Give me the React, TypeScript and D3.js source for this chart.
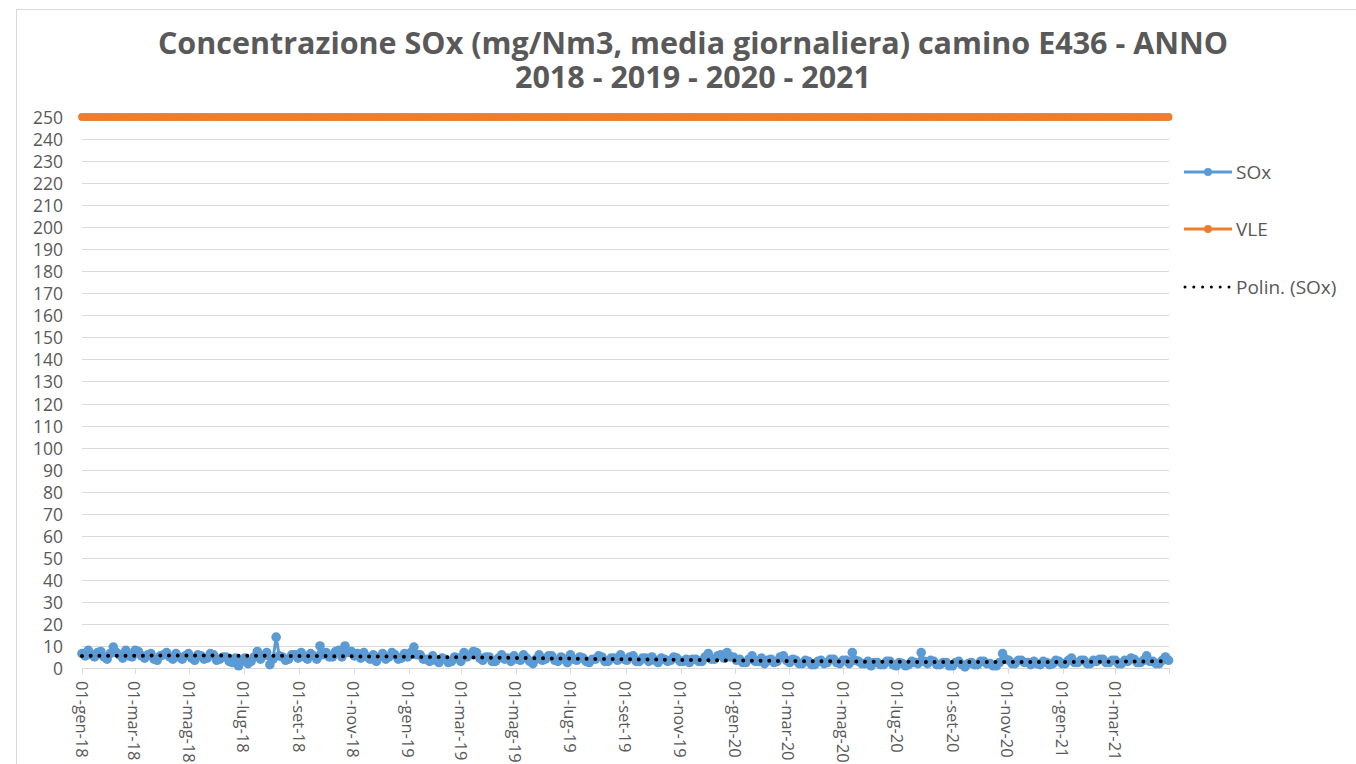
import React from "react";
import * as d3 from "d3";

const TITLE_LINES = [
  "Concentrazione SOx (mg/Nm3, media giornaliera) camino E436 - ANNO",
  "2018 - 2019 - 2020 - 2021",
];
const SERIES_NAMES = ["SOx", "VLE", "Polin. (SOx)"];
const FIRST_DAY = "2018-01-01";
const LAST_DAY = "2021-04-30";
const SAMPLE_STEP_HOURS = 84; // two readings per week

// SOx readings (mg/Nm3), two per week
const SOX_2018 = [
  6.5, 5.5, 8, 6, 5, 7, 7.5, 5, 4, 6.5, 9.5, 7, 6, 4.5, 8, 5.5, 5, 8, 7.5, 5.5,
  4.5, 6, 6.5, 4, 3.5, 5.5, 6, 7, 5, 4, 6.5, 5, 4, 5.5, 6.5, 4.5, 3.5, 6, 5.5, 4,
  4.5, 6.5, 6, 3.5, 4, 5, 5, 3, 2.5, 4.5, 1, 3, 4.5, 2, 3, 5, 7.5, 4, 5.5, 7,
  1.5, 4, 14, 5.5, 5, 3.5, 4, 6, 6, 4.5, 7, 5, 4, 6.5, 5.5, 4, 10, 6, 7, 5,
  5, 7.5, 8, 5, 10, 7, 7.5, 5.5, 6.5, 4.5, 7, 5, 4, 6, 3, 5, 6.5, 4, 5, 7,
  6, 4, 4.5, 6.5, 5, 7,
];
const SOX_2019 = [
  9.5, 6, 6, 4, 4, 3, 5.5, 3.5, 2.5, 4.5, 4, 2.5, 3, 5, 4.5, 3, 7, 5, 6, 7.5,
  7, 4.5, 3.5, 5, 5, 3, 3, 4.5, 6, 4, 4.5, 3, 5.5, 4, 3.5, 6, 4.5, 3, 2, 4,
  6, 3.5, 4, 5.5, 5.5, 3.5, 3, 5, 4, 2.5, 6, 4, 3.5, 5, 4.5, 3, 2.5, 4, 4, 5.5,
  5, 3, 3, 4.5, 4.5, 3.5, 6, 4, 3.5, 5, 5.5, 3, 3, 4.5, 4.5, 3, 5, 3.5, 2.5, 4.5,
  4, 3, 3.5, 5, 4.5, 3, 3, 4, 2.5, 4, 4, 3, 3, 5, 6.5, 4, 4, 5.5, 6, 4.5,
  7, 5, 5, 3.5,
];
const SOX_2020 = [
  4, 2.5, 2.5, 4, 5.5, 3, 3, 4.5, 2, 3.5, 4, 2.5, 3, 5, 5.5, 3.5, 2.5, 4, 3.5, 2,
  2, 3.5, 3, 1.5, 1.5, 3, 3.5, 2, 2.5, 4, 4, 2.5, 2, 3.5, 3.5, 2, 7, 3.5, 3, 2,
  2, 3, 1, 2.5, 2.5, 1.5, 1.5, 3, 3, 1.5, 1, 2.5, 2, 1, 1.5, 3, 2.5, 2, 7, 3,
  2, 3.5, 3, 1.5, 1.5, 2.5, 2.5, 1, 1, 2.5, 3, 1.5, 0.5, 2, 2.5, 1.5, 1.5, 3, 3, 2,
  2, 1, 1, 2.5, 6.5, 4, 3.5, 2, 2, 3.5, 3.5, 2.5, 2.5, 1.5, 3, 2, 1.5, 3, 2.5, 1.5,
  2, 3.5, 3, 2,
];
const SOX_2021 = [
  2, 3.5, 4.5, 2.5, 2.5, 3.5, 3.5, 2, 2, 3.5, 3, 4, 4, 2.5, 2.5, 3.5, 3.5, 2, 2, 3.5,
  3, 4.5, 4, 2.5, 2.5, 3.5, 5.5, 3, 3, 2, 2, 3.5, 5, 3.5,
];

const VLE_LIMIT = 250;
const TREND_ORDER = 3;

const X_TICK_LABELS = [
  "01-gen-18", "01-mar-18", "01-mag-18", "01-lug-18", "01-set-18", "01-nov-18",
  "01-gen-19", "01-mar-19", "01-mag-19", "01-lug-19", "01-set-19", "01-nov-19",
  "01-gen-20", "01-mar-20", "01-mag-20", "01-lug-20", "01-set-20", "01-nov-20",
  "01-gen-21", "01-mar-21",
];
const Y_TICKS = [
  0, 10, 20, 30, 40, 50, 60, 70, 80, 90, 100, 110, 120, 130, 140, 150, 160, 170,
  180, 190, 200, 210, 220, 230, 240, 250,
];

const COLORS = {
  sox: "#5B9BD5",
  vle: "#ED7D31",
  trend: "#000000",
  text: "#595959",
  grid: "#D9D9D9",
  border: "#D9D9D9",
};

const PLOT = { left: 82, right: 1169, top: 117, bottom: 668 };
const FONT = "'Open Sans', 'Noto Sans', sans-serif";

function polyFit(xs: number[], ys: number[], order: number): number[] {
  const n = order + 1;
  const A: number[][] = Array.from({ length: n }, () => new Array(n + 1).fill(0));
  for (let k = 0; k < xs.length; k++) {
    const pw: number[] = [];
    for (let i = 0; i < 2 * n; i++) pw.push(Math.pow(xs[k], i));
    for (let r = 0; r < n; r++) {
      for (let c = 0; c < n; c++) A[r][c] += pw[r + c];
      A[r][n] += pw[r] * ys[k];
    }
  }
  for (let i = 0; i < n; i++) {
    let max = i;
    for (let r = i + 1; r < n; r++) if (Math.abs(A[r][i]) > Math.abs(A[max][i])) max = r;
    [A[i], A[max]] = [A[max], A[i]];
    for (let r = 0; r < n; r++) {
      if (r === i) continue;
      const f = A[r][i] / A[i][i];
      for (let c = i; c <= n; c++) A[r][c] -= f * A[i][c];
    }
  }
  return A.map((row, i) => row[n] / A[i][i]);
}

export default function App() {
  const parse = d3.timeParse("%Y-%m-%d");
  const start = parse(FIRST_DAY) as Date;
  const end = parse(LAST_DAY) as Date;
  const values = [...SOX_2018, ...SOX_2019, ...SOX_2020, ...SOX_2021];
  const data = values.map((v, i) => ({
    date: new Date(Math.min(start.getTime() + i * SAMPLE_STEP_HOURS * 3600e3, end.getTime())),
    v,
  }));

  const x = d3.scaleTime().domain([start, end]).range([PLOT.left, PLOT.right]);
  const y = d3.scaleLinear().domain([0, 250]).range([PLOT.bottom, PLOT.top]);

  const tickDates = d3.timeMonth.every(2)!.range(start, d3.timeDay.offset(end, 1));

  const line = d3
    .line<{ date: Date; v: number }>()
    .x((d) => x(d.date))
    .y((d) => y(d.v));

  // polynomial trendline (least squares) computed from the SOx series
  const span = end.getTime() - start.getTime();
  const tNorm = (d: Date) => (d.getTime() - start.getTime()) / span;
  const coef = polyFit(data.map((d) => tNorm(d.date)), data.map((d) => d.v), TREND_ORDER);
  const trendPts = d3.range(0, 401).map((i) => {
    const t = i / 400;
    const v = coef.reduce((s, c, k) => s + c * Math.pow(t, k), 0);
    return { date: new Date(start.getTime() + t * span), v };
  });
  const vleData = data.map((d) => ({ date: d.date, v: VLE_LIMIT }));

  const legendY = [172, 229, 287];

  return (
    <svg
      width={1356}
      height={764}
      style={{ position: "absolute", left: 0, top: 0, background: "#fff" }}
      fontFamily={FONT}
    >
      <rect x={16.5} y={9.5} width={1500} height={900} fill="#fff" stroke={COLORS.border} />
      {TITLE_LINES.map((t, i) => (
        <text
          key={i}
          x={693}
          y={54 + i * 34}
          textAnchor="middle"
          fontSize={30.5}
          fontWeight={700}
          fill={COLORS.text}
        >
          {t}
        </text>
      ))}

      {Y_TICKS.map((t) => (
        <g key={t}>
          <line
            x1={PLOT.left}
            x2={PLOT.right}
            y1={Math.round(y(t)) + 0.5}
            y2={Math.round(y(t)) + 0.5}
            stroke={COLORS.grid}
            strokeWidth={1}
          />
          <text
            x={63}
            y={y(t)}
            textAnchor="end"
            dominantBaseline="central"
            fontSize={17.5}
            fill={COLORS.text}
          >
            {t}
          </text>
        </g>
      ))}

      {[...tickDates, end].map((d, i) => (
        <line
          key={i}
          x1={Math.round(x(d)) + 0.5}
          x2={Math.round(x(d)) + 0.5}
          y1={PLOT.bottom}
          y2={PLOT.bottom + 6}
          stroke={COLORS.grid}
        />
      ))}
      {tickDates.map((d, i) => (
        <text
          key={i}
          transform={`translate(${x(d)},${PLOT.bottom + 13}) rotate(90)`}
          textAnchor="start"
          dominantBaseline="central"
          fontSize={16.5}
          fill={COLORS.text}
        >
          {X_TICK_LABELS[i]}
        </text>
      ))}

      <path d={line(data) || ""} fill="none" stroke={COLORS.sox} strokeWidth={3} strokeLinejoin="round" />
      {data.map((d, i) => (
        <circle key={i} cx={x(d.date)} cy={y(d.v)} r={4.8} fill={COLORS.sox} />
      ))}

      <path d={line(vleData) || ""} fill="none" stroke={COLORS.vle} strokeWidth={3} />
      {vleData.map((d, i) => (
        <circle key={i} cx={x(d.date)} cy={y(d.v)} r={3.9} fill={COLORS.vle} />
      ))}

      <path
        d={line(trendPts) || ""}
        fill="none"
        stroke={COLORS.trend}
        strokeWidth={4}
        strokeLinecap="round"
        strokeDasharray="0 8.7"
      />

      {SERIES_NAMES.map((name, i) => (
        <g key={name}>
          {i < 2 ? (
            <>
              <line
                x1={1184}
                x2={1232}
                y1={legendY[i]}
                y2={legendY[i]}
                stroke={i === 0 ? COLORS.sox : COLORS.vle}
                strokeWidth={3}
              />
              <circle cx={1208} cy={legendY[i]} r={4} fill={i === 0 ? COLORS.sox : COLORS.vle} />
            </>
          ) : (
            <line
              x1={1185}
              x2={1230}
              y1={legendY[i]}
              y2={legendY[i]}
              stroke={COLORS.trend}
              strokeWidth={3}
              strokeLinecap="round"
              strokeDasharray="0 8.8"
            />
          )}
          <text x={1236} y={legendY[i]} dominantBaseline="central" fontSize={19} fill={COLORS.text}>
            {name}
          </text>
        </g>
      ))}
    </svg>
  );
}
